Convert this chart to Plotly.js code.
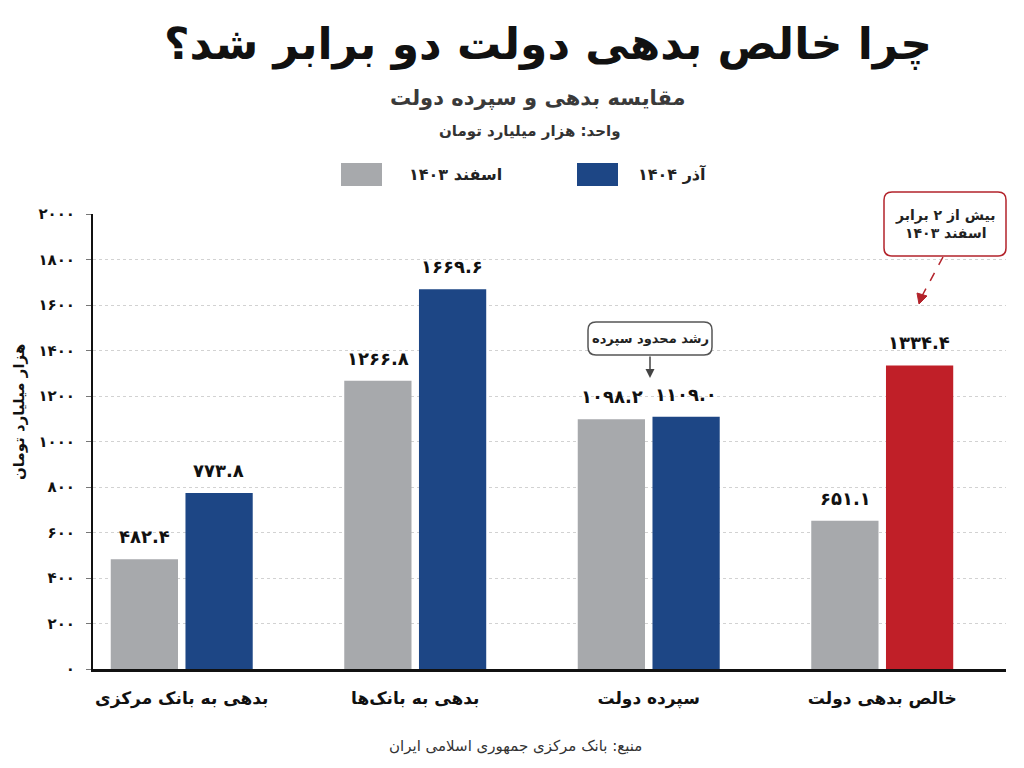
<!DOCTYPE html>
<html>
<head>
<meta charset="utf-8">
<script src="https://cdn.plot.ly/plotly-3.0.1.min.js"></script>
<style>
  html, body { margin: 0; padding: 0; background: #ffffff; }
  #chart { width: 1024px; height: 768px; }
</style>
</head>
<body>
<div id="chart"></div>
<script>
// Government debt and deposits (thousand billion toman)
const categories = ['بدهی به بانک مرکزی', 'بدهی به بانک‌ها', 'سپرده دولت', 'خالص بدهی دولت'];
const seriesNames = ['اسفند ۱۴۰۳', 'آذر ۱۴۰۴'];
const esfand1403 = [482.4, 1266.8, 1098.2, 651.1];
const azar1404 = [773.8, 1669.6, 1109.0, 1334.4];
const azarColors = ['#1d4685', '#1d4685', '#1d4685', '#c01f28'];
const yTickVals = [0, 200, 400, 600, 800, 1000, 1200, 1400, 1600, 1800, 2000];

const FONT = 'DejaVu Sans, Noto Sans, sans-serif';
const faDigits = '۰۱۲۳۴۵۶۷۸۹';
const toFa = s => String(s).replace(/[0-9]/g, d => faDigits[+d]);
const fmt = v => toFa(v.toFixed(1));

// plot box in pixels, used to place decorations in paper units
const M = { l: 93, r: 18, t: 214, b: 99 };
const W = 1024, H = 768;
const PW = W - M.l - M.r, PH = H - M.t - M.b;
const px = x => (x - M.l) / PW;
const py = y => (H - M.b - y) / PH;

function roundRect(x0, y0, x1, y1, r) {
  // rounded rectangle path in paper coordinates (pixel inputs)
  const rx = r / PW, ry = r / PH;
  const a = px(x0), b = px(x1), top = py(y0), bot = py(y1);
  return `M ${a + rx} ${top} L ${b - rx} ${top} Q ${b} ${top} ${b} ${top - ry} ` +
         `L ${b} ${bot + ry} Q ${b} ${bot} ${b - rx} ${bot} L ${a + rx} ${bot} ` +
         `Q ${a} ${bot} ${a} ${bot + ry} L ${a} ${top - ry} Q ${a} ${top} ${a + rx} ${top} Z`;
}

const traces = [
  {
    type: 'bar', name: seriesNames[0], x: categories, y: esfand1403,
    marker: { color: '#a7a9ac' }, hoverinfo: 'x+y'
  },
  {
    type: 'bar', name: seriesNames[1], x: categories, y: azar1404,
    marker: { color: azarColors }, hoverinfo: 'x+y'
  }
];

const ann = (text, x, y, size, opts = {}) => Object.assign({
  text, xref: 'paper', yref: 'paper', x: px(x), y: py(y),
  xanchor: 'center', yanchor: 'middle', showarrow: false,
  font: { family: FONT, size, color: '#111111' }
}, opts);

// value labels above each bar, offset to the bar's side of the group
const BAR_SHIFT = 37;
const valueLabels = [];
[esfand1403, azar1404].forEach((vals, s) => {
  vals.forEach((v, i) => valueLabels.push({
    text: '<b>' + fmt(v) + '</b>', xref: 'x', yref: 'y', x: categories[i], y: v,
    xshift: s === 0 ? -BAR_SHIFT : BAR_SHIFT, yshift: 10,
    xanchor: 'center', yanchor: 'bottom', showarrow: false,
    font: { family: FONT, size: 18, color: '#111111' }
  }));
});

const annotations = valueLabels.concat([
  ann('<b>چرا خالص بدهی دولت دو برابر شد؟</b>', 548, 44, 44),
  ann('<b>مقایسه بدهی و سپرده دولت</b>', 538, 98, 21, { font: { family: FONT, size: 21, color: '#3a3a3a' } }),
  ann('<b>واحد: هزار میلیارد تومان</b>', 530, 131, 15, { font: { family: FONT, size: 15, color: '#333333' } }),
  // legend labels
  ann('<b>' + seriesNames[0] + '</b>', 455, 174, 16, { font: { family: FONT, size: 16, color: '#222222' } }),
  ann('<b>' + seriesNames[1] + '</b>', 672, 174, 16, { font: { family: FONT, size: 16, color: '#222222' } }),
  // y axis unit label
  ann('<b>هزار میلیارد تومان</b>', 19, 412, 15, { textangle: -90, font: { family: FONT, size: 15, color: '#111111' } }),
  // callouts
  ann('<b>رشد محدود سپرده</b>', 650, 338, 13, { font: { family: FONT, size: 13, color: '#222222' } }),
  ann('<b>بیش از ۲ برابر<br>اسفند ۱۴۰۳</b>', 945, 224, 14, { font: { family: FONT, size: 14, color: '#222222' } }),
  // source
  ann('منبع: بانک مرکزی جمهوری اسلامی ایران', 515, 746, 15, { font: { family: FONT, size: 15, color: '#333333' } }),
  // arrow under the deposit callout
  {
    xref: 'paper', yref: 'paper', axref: 'paper', ayref: 'paper',
    x: px(650), y: py(378), ax: px(650), ay: py(355),
    showarrow: true, arrowhead: 2, arrowsize: 1.2, arrowwidth: 1.5, arrowcolor: '#444444', text: ''
  }
]);

const shapes = [
  // legend swatches
  { type: 'rect', xref: 'paper', yref: 'paper', x0: px(341), x1: px(382), y0: py(163), y1: py(186),
    fillcolor: '#a7a9ac', line: { width: 0 } },
  { type: 'rect', xref: 'paper', yref: 'paper', x0: px(577), x1: px(618), y0: py(163), y1: py(186),
    fillcolor: '#1d4685', line: { width: 0 } },
  // callout boxes
  { type: 'path', xref: 'paper', yref: 'paper', path: roundRect(588, 322, 712, 355, 8),
    fillcolor: '#ffffff', line: { color: '#555555', width: 1.5 } },
  { type: 'path', xref: 'paper', yref: 'paper', path: roundRect(884, 192, 1006, 256, 8),
    fillcolor: '#ffffff', line: { color: '#b3232b', width: 1.5 } },
  // dashed pointer to the net-debt bar
  { type: 'line', xref: 'paper', yref: 'paper', x0: px(943), y0: py(257), x1: px(922), y1: py(296),
    line: { color: '#b3232b', width: 1.5, dash: 'dash' } },
  { type: 'path', xref: 'paper', yref: 'paper',
    path: `M ${px(917)} ${py(293)} L ${px(927)} ${py(296)} L ${px(919)} ${py(304)} Z`,
    fillcolor: '#b3232b', line: { color: '#b3232b', width: 1 } }
];

const layout = {
  width: W, height: H,
  margin: M,
  paper_bgcolor: '#ffffff', plot_bgcolor: '#ffffff',
  showlegend: false,
  barmode: 'group', bargap: 0.36, bargroupgap: 0.1,
  font: { family: FONT, color: '#111111' },
  xaxis: {
    type: 'category', range: [-0.38, 3.53],
    showline: true, linecolor: '#111111', linewidth: 2.5,
    showgrid: false, ticks: '', zeroline: false,
    tickfont: { family: FONT, size: 17, color: '#111111' },
    tickvals: categories, ticktext: categories.map(c => '<b>' + c + '</b>'),
    ticklabelstandoff: 12
  },
  yaxis: {
    range: [0, 2000], tickvals: yTickVals, ticktext: yTickVals.map(v => '<b>' + toFa(v) + '</b>'),
    showline: true, linecolor: '#111111', linewidth: 2,
    ticks: 'outside', ticklen: 5, tickcolor: '#777777', tickwidth: 1,
    showgrid: true, gridcolor: '#d2d2d2', griddash: 'dot', gridwidth: 1,
    zeroline: false,
    tickfont: { family: FONT, size: 15, color: '#111111' },
    ticklabelstandoff: 8
  },
  annotations, shapes
};

Plotly.newPlot('chart', traces, layout, { displayModeBar: false, staticPlot: true });
</script>
</body>
</html>
